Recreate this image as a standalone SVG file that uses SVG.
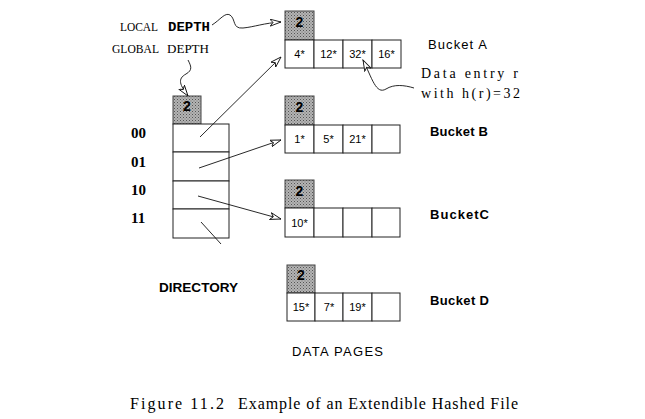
<svg xmlns="http://www.w3.org/2000/svg" width="645" height="419" viewBox="0 0 645 419">
<style>
.cell{fill:#fff;stroke:#222;stroke-width:1}
.depth{fill:url(#stip);stroke:#444;stroke-width:1}
.dnum{font-family:"Liberation Sans",Arial,sans-serif;font-weight:bold;font-size:14px;text-anchor:middle;fill:#000}
.ct{font-family:"Liberation Sans",Arial,sans-serif;font-size:11px;text-anchor:middle;fill:#000}
.lbl{font-family:"Liberation Sans",Arial,sans-serif;font-size:13px;fill:#000}
.blbl{font-family:"Liberation Sans",Arial,sans-serif;font-size:13px;font-weight:bold;fill:#000}
.serif{font-family:"Liberation Serif","Times New Roman",serif;font-size:13.5px;fill:#000}
.big{font-size:16px}
.mid{font-size:14px}
.mono{font-family:"Liberation Mono","Courier New",monospace;font-size:13px;font-weight:bold;fill:#000}
.bin{font-family:"Liberation Serif","Times New Roman",serif;font-size:15px;font-weight:bold;fill:#000}
.conn{fill:none;stroke:#111;stroke-width:0.9}
</style>
<defs>
<pattern id="stip" width="3" height="3" patternUnits="userSpaceOnUse">
<rect width="3" height="3" fill="#b4b4b4"/>
<rect x="0" y="0" width="1" height="1" fill="#555"/>
<rect x="1.5" y="1.5" width="1" height="1" fill="#707070"/>
</pattern>
<marker id="arr" viewBox="0 0 12 8" refX="11" refY="4" markerWidth="12" markerHeight="8" markerUnits="userSpaceOnUse" orient="auto">
<path d="M0,0.5 L11,4 L0,7.5 L3,4 Z" fill="#fff" stroke="#111" stroke-width="0.9"/>
</marker>
</defs>

<g id="labels">
<text class="serif" x="120" y="31" textLength="38" lengthAdjust="spacingAndGlyphs">LOCAL</text>
<text class="mono" x="168" y="31" textLength="42" lengthAdjust="spacingAndGlyphs">DEPTH</text>
<text class="serif" x="112" y="53" textLength="47" lengthAdjust="spacingAndGlyphs">GLOBAL</text>
<text class="serif" x="167" y="53" textLength="42" lengthAdjust="spacingAndGlyphs">DEPTH</text>
<text class="serif mid" x="421" y="78" textLength="97" lengthAdjust="spacing">Data entry r</text>
<text class="serif mid" x="421" y="98" textLength="99" lengthAdjust="spacing">with h(r)=32</text>
<text class="blbl" x="159" y="292" textLength="79" lengthAdjust="spacingAndGlyphs">DIRECTORY</text>
<text class="lbl" x="292" y="356" textLength="91" lengthAdjust="spacing">DATA PAGES</text>
<text class="serif big" x="130" y="409" textLength="94" lengthAdjust="spacing">Figure 11.2</text>
<text class="serif big" x="238" y="409" textLength="280" lengthAdjust="spacing">Example of an Extendible Hashed File</text>
<text class="bin" x="131" y="138">00</text>
<text class="bin" x="131" y="167">01</text>
<text class="bin" x="131" y="195">10</text>
<text class="bin" x="131" y="223">11</text>
</g>

<g id="directory">
<rect class="depth" x="173" y="96" width="28" height="28"/>
<text class="dnum" x="187" y="111">2</text>
<rect class="cell" x="173" y="124" width="56" height="28"/>
<rect class="cell" x="173" y="152" width="56" height="29"/>
<rect class="cell" x="173" y="181" width="56" height="28"/>
<rect class="cell" x="173" y="209" width="56" height="29"/>
</g>

<g id="bucketA">
<rect class="depth" x="285" y="11" width="29" height="29"/>
<text class="dnum" x="299.5" y="27">2</text>
<rect class="cell" x="285" y="40" width="29" height="28"/>
<rect class="cell" x="314" y="40" width="29" height="28"/>
<rect class="cell" x="343" y="40" width="29" height="28"/>
<rect class="cell" x="372" y="40" width="29" height="28"/>
<text class="ct" x="299.5" y="58">4*</text>
<text class="ct" x="328.5" y="58">12*</text>
<text class="ct" x="357.5" y="58">32*</text>
<text class="ct" x="386.5" y="58">16*</text>
<text class="lbl" x="428" y="49" textLength="59" lengthAdjust="spacing">Bucket A</text>
</g>

<g id="bucketB">
<rect class="depth" x="285" y="96" width="29" height="29"/>
<text class="dnum" x="299.5" y="112">2</text>
<rect class="cell" x="285" y="125" width="29" height="28"/>
<rect class="cell" x="314" y="125" width="29" height="28"/>
<rect class="cell" x="343" y="125" width="29" height="28"/>
<rect class="cell" x="372" y="125" width="28" height="28"/>
<text class="ct" x="299.5" y="143">1*</text>
<text class="ct" x="328.5" y="143">5*</text>
<text class="ct" x="357.5" y="143">21*</text>
<text class="blbl" x="430" y="136" textLength="58" lengthAdjust="spacing">Bucket B</text>
</g>

<g id="bucketC">
<rect class="depth" x="285" y="180" width="29" height="28"/>
<text class="dnum" x="299.5" y="196">2</text>
<rect class="cell" x="285" y="208" width="29" height="29"/>
<rect class="cell" x="314" y="208" width="29" height="29"/>
<rect class="cell" x="343" y="208" width="29" height="29"/>
<rect class="cell" x="372" y="208" width="28" height="29"/>
<text class="ct" x="299.5" y="227">10*</text>
<text class="blbl" x="430" y="219" textLength="59" lengthAdjust="spacing">BucketC</text>
</g>

<g id="bucketD">
<rect class="depth" x="287" y="265" width="28" height="28"/>
<text class="dnum" x="301" y="280">2</text>
<rect class="cell" x="287" y="293" width="28" height="28"/>
<rect class="cell" x="315" y="293" width="28" height="28"/>
<rect class="cell" x="343" y="293" width="29" height="28"/>
<rect class="cell" x="372" y="293" width="28" height="28"/>
<text class="ct" x="301" y="311">15*</text>
<text class="ct" x="329" y="311">7*</text>
<text class="ct" x="357.5" y="311">19*</text>
<text class="blbl" x="430" y="305" textLength="59" lengthAdjust="spacing">Bucket D</text>
</g>

<g id="connectors">
<path class="conn" d="M200,137 L281,57" marker-end="url(#arr)"/>
<path class="conn" d="M199,168 L281,140" marker-end="url(#arr)"/>
<path class="conn" d="M198,196 L281,219" marker-end="url(#arr)"/>
<path class="conn" d="M201,222 L221,244"/>
<path class="conn" d="M212,25 C220,20 225,12 230,15 C236,19 232,29 243,28 C254,27 264,23 281,22" marker-end="url(#arr)"/>
<path class="conn" d="M188,60 C191,66 193,70 186,74 C177,79 180,85 188,96" marker-end="url(#arr)"/>
<path class="conn" d="M414,88 C404,85 394,84 386,89 C376,95 372,78 363,60" marker-end="url(#arr)"/>
</g>
</svg>
